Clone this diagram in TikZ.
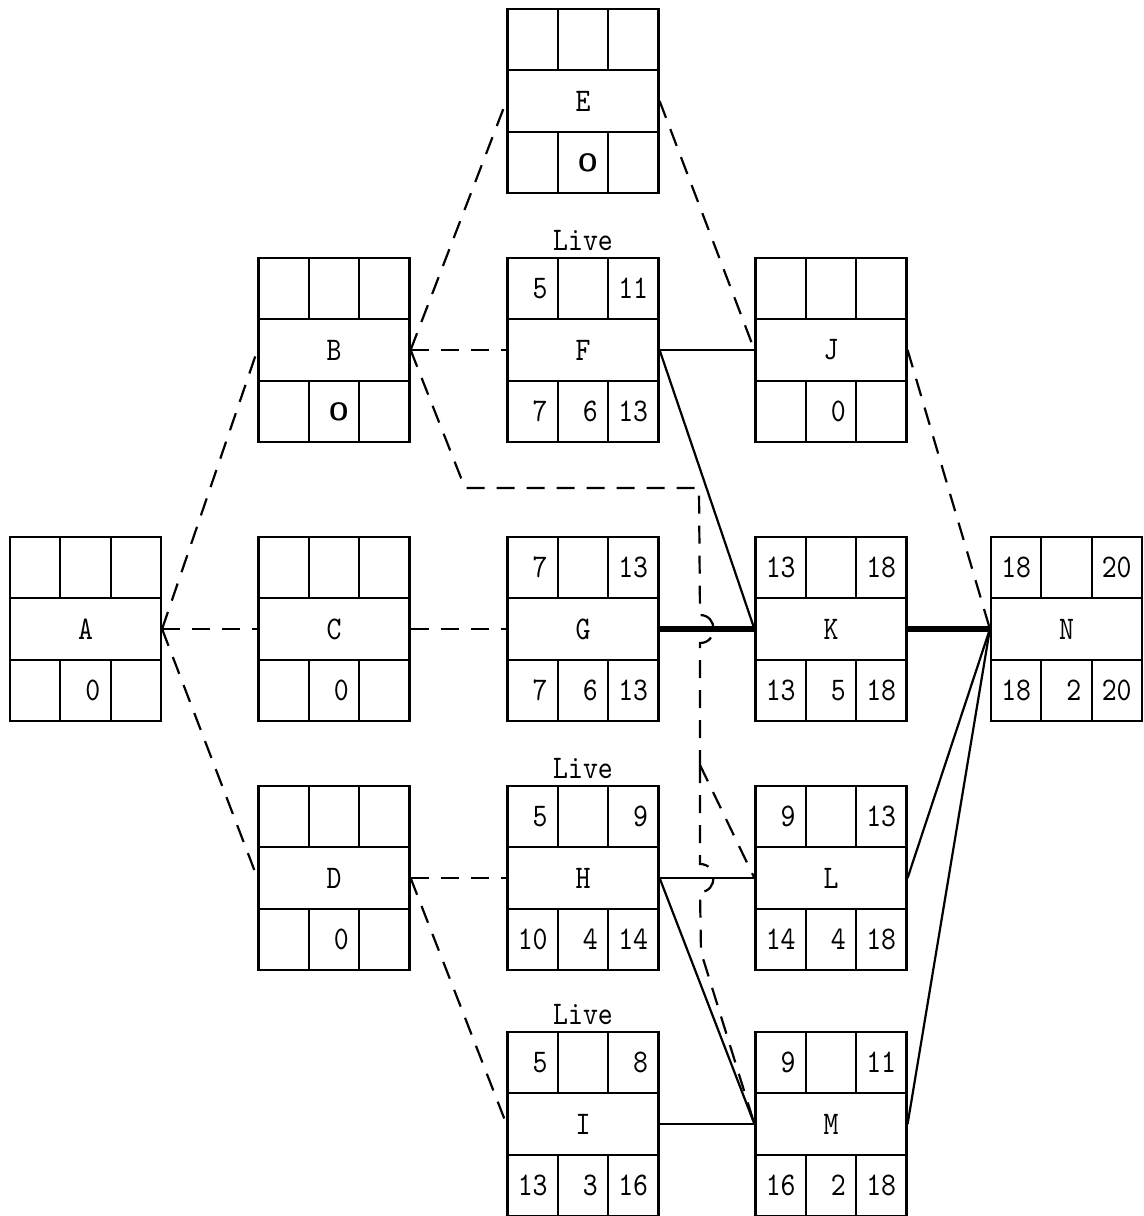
\documentclass[tikz,border=0pt]{standalone}
\usepackage{fontspec}
\usetikzlibrary{calc}
\newfontfamily\typew[FakeStretch=0.86]{lmmono10-regular.otf}
\begin{document}
\tikzset{
  actbox/.style={draw, line width=1.1pt, minimum width=75.5pt, minimum height=92pt, inner sep=0pt},
  boxline/.style={line width=1.1pt},
  lbl/.style={inner sep=0pt, font=\fontsize{16.5}{19}\selectfont\typew},
  num/.style={anchor=east, inner sep=0pt, font=\fontsize{16.5}{19}\selectfont\typew},
  live/.style={anchor=south, inner sep=0pt, yshift=3pt, font=\fontsize{16.5}{19}\selectfont\typew},
  dep/.style={line width=1.1pt, dash pattern=on 9pt off 6pt},
  act/.style={line width=1.1pt},
  crit/.style={line width=2.6pt}
}
\newcommand\boldO{{\fontsize{12.5}{14}\selectfont\sffamily\bfseries O}}
\newcommand\actbox[8]{%
  \node[actbox] (#1) at (#2) {};
  \draw[boxline] ($(#1.center)+(-75.5,-31)$) -- ++(151,0)
                 ($(#1.center)+(-75.5,31)$) -- ++(151,0)
                 ($(#1.center)+(-25.2,-92)$) -- ++(0,61)
                 ($(#1.center)+(25.2,-92)$) -- ++(0,61)
                 ($(#1.center)+(-25.2,92)$) -- ++(0,-61)
                 ($(#1.center)+(25.2,92)$) -- ++(0,-61);
  \node[lbl] (#1-name) at (#1.center) {#3};
  \node[num] (#1-es) at ($(#1.center)+(-35,-61.5)$) {#4};
  \node[num] (#1-ef) at ($(#1.center)+(65.5,-61.5)$) {#5};
  \node[num] (#1-ls) at ($(#1.center)+(-35,61.5)$) {#6};
  \node[num] (#1-du) at ($(#1.center)+(15.2,61.5)$) {#7};
  \node[num] (#1-lf) at ($(#1.center)+(65.5,61.5)$) {#8};
}
\begin{tikzpicture}[x=0.5pt, y=-0.5pt]
\useasboundingbox (0,0) rectangle (1144,1216);

\actbox{E}{583,101}{E}{}{}{}{\boldO}{}
\actbox{B}{334,350}{B}{}{}{}{\boldO}{}
\actbox{F}{583,350}{F}{5}{11}{7}{6}{13}
\actbox{J}{831,350}{J}{}{}{}{0}{}
\actbox{A}{85.5,629}{A}{}{}{}{0}{}
\actbox{C}{334,629}{C}{}{}{}{0}{}
\actbox{G}{583,629}{G}{7}{13}{7}{6}{13}
\actbox{K}{831,629}{K}{13}{18}{13}{5}{18}
\actbox{N}{1066.5,629}{N}{18}{20}{18}{2}{20}
\actbox{D}{334,878}{D}{}{}{}{0}{}
\actbox{H}{583,878}{H}{5}{9}{10}{4}{14}
\actbox{L}{831,878}{L}{9}{13}{14}{4}{18}
\actbox{I}{583,1124}{I}{5}{8}{13}{3}{16}
\actbox{M}{831,1124}{M}{9}{11}{16}{2}{18}

\node[live] (F-live) at (F.north) {Live};
\node[live] (H-live) at (H.north) {Live};
\node[live] (I-live) at (I.north) {Live};

% dashed (dummy) connectors
\draw[dep] (A.east) -- (B.west);
\draw[dep] (A.east) -- (C.west);
\draw[dep] (A.east) -- (D.west);
\draw[dep] (B.east) -- (E.west);
\draw[dep] (B.east) -- (F.west);
\draw[dep] (C.east) -- (G.west);
\draw[dep] (D.east) -- (H.west);
\draw[dep] (D.east) -- (I.west);
\draw[dep] (E.east) -- (J.west);
\draw[dep] (J.east) -- (N.west);

\coordinate (b1) at (465,488);
\coordinate (b2) at (699,488);
\coordinate (j1) at (700,615);
\coordinate (j2) at (700,643);
\coordinate (br) at (700,765);
\coordinate (j3) at (700,864);
\coordinate (j4) at (700,892);
\coordinate (b3) at (701,952);
\draw[dep] (B.east) -- (b1) -- (b2) -- (j1) .. controls (718,615) and (718,643) .. (j2) -- (br);
\draw[dep] (br) -- (L.west);
\draw[dep] (br) -- (j3) .. controls (718,864) and (718,892) .. (j4) -- (b3) -- (M.west);

% solid connectors
\draw[act] (F.east) -- (J.west);
\draw[act] (F.east) -- (K.west);
\draw[crit] (G.east) -- (K.west);
\draw[crit] (K.east) -- (N.west);
\draw[act] (H.east) -- (L.west);
\draw[act] (H.east) -- (M.west);
\draw[act] (I.east) -- (M.west);
\draw[act] (L.east) -- (N.west);
\draw[act] (M.east) -- (N.west);
\end{tikzpicture}
\end{document}
